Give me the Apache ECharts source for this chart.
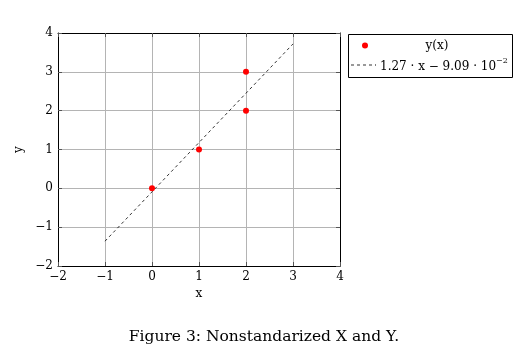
<!DOCTYPE html>
<html><head><meta charset="utf-8">
<script src="https://cdn.jsdelivr.net/npm/echarts@6/dist/echarts.min.js"></script>
<style>html,body{margin:0;padding:0;background:#fff}#c{width:528px;height:356px}</style>
</head><body><div id="c"></div>
<script>
const xTicks = [-2, -1, 0, 1, 2, 3, 4];
const yTicks = [-2, -1, 0, 1, 2, 3, 4];
const pointsX = [0, 1, 2, 2];
const pointsY = [0, 1, 2, 3];
const fitX = [-1, 3];
const slope = 1.27, intercept = -0.0909;
const fitY = fitX.map(x => slope * x + intercept);
const F = 'DejaVu Serif';
const chart = echarts.init(document.getElementById('c'));
const fmt = v => (v < 0 ? '\u2212' + Math.abs(v) : '' + v);
const baseAxis = {
  min: -2, max: 4, interval: 1,
  axisLine: {show: true, onZero: false, lineStyle: {color: '#000', width: 1}},
  axisTick: {show: true, inside: true, length: 4, lineStyle: {color: '#555'}},
  splitLine: {show: false}
};
chart.setOption({
  animation: false,
  grid: {left: 58, top: 33, width: 282, height: 233},
  xAxis: [
    Object.assign({}, baseAxis, {type: 'value', position: 'bottom', name: 'x', nameLocation: 'middle', nameGap: 22,
      nameTextStyle: {fontFamily: F, fontSize: 12, color: '#000'},
      axisLabel: {formatter: fmt, fontFamily: F, fontSize: 12, color: '#000', margin: 5},
      splitLine: {show: true, lineStyle: {color: '#b4b4b4', width: 1}}}),
    Object.assign({}, baseAxis, {type: 'value', position: 'top', axisLabel: {show: false}})
  ],
  yAxis: [
    Object.assign({}, baseAxis, {type: 'value', position: 'left', name: 'y', nameLocation: 'middle', nameGap: 32, nameRotate: 90,
      nameTextStyle: {fontFamily: F, fontSize: 12, color: '#000'},
      axisLabel: {formatter: fmt, fontFamily: F, fontSize: 12, color: '#000', margin: 5},
      splitLine: {show: true, lineStyle: {color: '#b4b4b4', width: 1}}}),
    Object.assign({}, baseAxis, {type: 'value', position: 'right', axisLabel: {show: false}})
  ],
  series: [
    {type: 'line', name: 'fit', data: fitX.map((x, i) => [x, fitY[i]]), showSymbol: false,
      lineStyle: {color: '#000', width: 0.8, type: [3, 3]}, z: 2},
    {type: 'scatter', name: 'y(x)', data: pointsX.map((x, i) => [x, pointsY[i]]), symbolSize: 6,
      itemStyle: {color: '#ff0000', opacity: 1}, z: 3}
  ],
  graphic: [
    {type: 'rect', shape: {x: 348.5, y: 34.5, width: 164, height: 43}, style: {fill: '#fff', stroke: '#000', lineWidth: 1}},
    {type: 'circle', shape: {cx: 365, cy: 45.5, r: 3}, style: {fill: '#ff0000'}},
    {type: 'text', style: {x: 437, y: 45.5, text: 'y(x)', align: 'center', verticalAlign: 'middle', font: '12px "DejaVu Serif"', fill: '#000'}},
    {type: 'line', shape: {x1: 351, y1: 65, x2: 376, y2: 65}, style: {stroke: '#000', lineWidth: 0.8, lineDash: [3, 3]}},
    {type: 'text', style: {x: 380, y: 65, verticalAlign: 'middle',
      text: '{a|1.27 \u00b7 x \u2212 9.09 \u00b7 10}{s|\u22122}',
      rich: {a: {fontFamily: F, fontSize: 12, color: '#000', verticalAlign: 'bottom'},
             s: {fontFamily: F, fontSize: 8, color: '#000', verticalAlign: 'top', padding: [0, 0, 8, 0]}}}},
    {type: 'text', style: {x: 264, y: 337, text: 'Figure 3: Nonstandarized X and Y.', align: 'center', verticalAlign: 'middle', font: '15.5px "DejaVu Serif"', fill: '#000'}}
  ]
});
</script></body></html>
